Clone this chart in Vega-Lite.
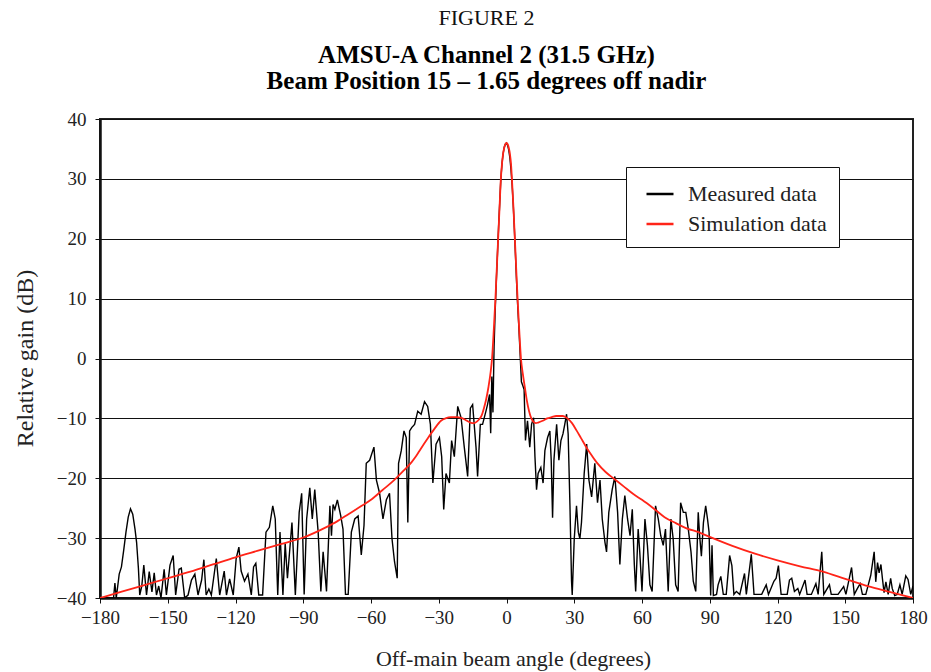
{
  "$schema": "https://vega.github.io/schema/vega-lite/v6.json",
  "width": 813,
  "height": 479,
  "autosize": {"type": "none"},
  "padding": {"left": 100, "top": 119, "right": 18, "bottom": 74},
  "background": "white",
  "config": {
    "font": "Liberation Serif",
    "view": {"stroke": "#222", "strokeWidth": 2},
    "axis": {"labelFont": "Liberation Serif", "titleFont": "Liberation Serif", "labelColor": "#222", "titleColor": "#222", "titleFontWeight": "normal"}
  },
  "title": {
    "text": "FIGURE 2",
    "subtitle": ["AMSU-A Channel 2 (31.5 GHz)", "Beam Position 15 – 1.65 degrees off nadir"],
    "font": "Liberation Serif",
    "fontSize": 22,
    "fontWeight": "normal",
    "color": "#111",
    "subtitleFont": "Liberation Serif",
    "subtitleFontSize": 25,
    "subtitleFontWeight": "bold",
    "subtitleColor": "#000",
    "subtitleLineHeight": 26,
    "subtitlePadding": 13,
    "anchor": "middle",
    "dx": -20,
    "offset": 15
  },
  "datasets": {
    "measured": [
      {"a":-180,"g":-40},{"a":-176,"g":-40},{"a":-174,"g":-40},{"a":-173.4,"g":-37.5},{"a":-172.8,"g":-40},{"a":-171.5,"g":-36},{"a":-170.5,"g":-34.8},{"a":-169.5,"g":-32},{"a":-168.5,"g":-29},{"a":-167.5,"g":-26.5},{"a":-166.5,"g":-25.1},{"a":-165.5,"g":-26},{"a":-164.5,"g":-28.5},{"a":-163.8,"g":-30.7},{"a":-163,"g":-35},{"a":-162.4,"g":-39.5},{"a":-161.5,"g":-38},{"a":-160.6,"g":-34.5},{"a":-159.4,"g":-39.5},{"a":-158.2,"g":-35.6},{"a":-157,"g":-39},{"a":-156,"g":-35.8},{"a":-155,"g":-39.5},{"a":-154,"g":-38},{"a":-153,"g":-40},{"a":-151.6,"g":-35.2},{"a":-150.6,"g":-39.5},{"a":-149,"g":-34.5},{"a":-147.6,"g":-32.9},{"a":-146.5,"g":-39.5},{"a":-145,"g":-35.2},{"a":-144,"g":-35},{"a":-142.5,"g":-40},{"a":-141,"g":-39.5},{"a":-139.5,"g":-37},{"a":-138,"g":-36},{"a":-136.6,"g":-39.5},{"a":-135,"g":-37},{"a":-134,"g":-33.6},{"a":-133,"g":-39.5},{"a":-131.8,"g":-38.5},{"a":-130.7,"g":-39.5},{"a":-128.5,"g":-33.4},{"a":-127,"g":-39.5},{"a":-125,"g":-35.5},{"a":-124,"g":-39.5},{"a":-122.6,"g":-36.8},{"a":-121,"g":-39.5},{"a":-119.7,"g":-33.4},{"a":-118.5,"g":-31.5},{"a":-117.5,"g":-35.5},{"a":-116,"g":-37.2},{"a":-114.5,"g":-36},{"a":-113,"g":-39.5},{"a":-112,"g":-34.8},{"a":-111,"g":-34.2},{"a":-109.7,"g":-39.5},{"a":-108,"g":-39.5},{"a":-106.5,"g":-29},{"a":-105,"g":-28.2},{"a":-103.5,"g":-24.6},{"a":-102.4,"g":-26.8},{"a":-101.3,"g":-39.5},{"a":-100.3,"g":-29},{"a":-99,"g":-39.5},{"a":-98,"g":-30.9},{"a":-97,"g":-36.7},{"a":-95,"g":-27.4},{"a":-93.5,"g":-39.5},{"a":-91.8,"g":-25.7},{"a":-90.7,"g":-22.5},{"a":-89.6,"g":-39.4},{"a":-88.5,"g":-26.8},{"a":-87.1,"g":-21.6},{"a":-86,"g":-26.8},{"a":-84.9,"g":-21.9},{"a":-83.4,"g":-29},{"a":-82.2,"g":-38.9},{"a":-81.2,"g":-32.3},{"a":-79.7,"g":-38.9},{"a":-78.2,"g":-24.6},{"a":-77.5,"g":-29.6},{"a":-76.8,"g":-24.4},{"a":-76,"g":-25.2},{"a":-74.9,"g":-23.6},{"a":-73.4,"g":-26.3},{"a":-72.4,"g":-28.5},{"a":-71.3,"g":-39.4},{"a":-70.1,"g":-39.4},{"a":-68.7,"g":-29},{"a":-67.2,"g":-26.8},{"a":-65.7,"g":-26.3},{"a":-64.3,"g":-32.8},{"a":-63.1,"g":-27.9},{"a":-62.1,"g":-17.5},{"a":-60.6,"g":-17},{"a":-58.7,"g":-14.8},{"a":-57.6,"g":-20.3},{"a":-56.2,"g":-22.5},{"a":-54.7,"g":-26.8},{"a":-53.2,"g":-23.6},{"a":-51.8,"g":-22.5},{"a":-50.7,"g":-30.1},{"a":-49.6,"g":-33.9},{"a":-48.4,"g":-36.7},{"a":-47.8,"g":-17.5},{"a":-46.6,"g":-15.4},{"a":-45.4,"g":-12.1},{"a":-44.4,"g":-13.2},{"a":-43.7,"g":-27.4},{"a":-42.9,"g":-12.1},{"a":-41.9,"g":-11.5},{"a":-40.7,"g":-11},{"a":-39.3,"g":-8.8},{"a":-37.8,"g":-9.3},{"a":-36.3,"g":-7.2},{"a":-34.9,"g":-8},{"a":-33.7,"g":-11},{"a":-32.6,"g":-20.8},{"a":-31.2,"g":-14.3},{"a":-29.7,"g":-13.2},{"a":-28.7,"g":-16.4},{"a":-27.8,"g":-25.2},{"a":-26.8,"g":-19.2},{"a":-25.3,"g":-20.8},{"a":-24.3,"g":-13.7},{"a":-23.1,"g":-16.4},{"a":-21.6,"g":-8},{"a":-20.1,"g":-9.9},{"a":-18.7,"g":-14.8},{"a":-17.2,"g":-19.7},{"a":-16,"g":-8.3},{"a":-15,"g":-7.7},{"a":-13.5,"g":-14.8},{"a":-12.8,"g":-19.7},{"a":-11.6,"g":-11},{"a":-10.6,"g":-11},{"a":-9.1,"g":-8.8},{"a":-8.4,"g":-7.7},{"a":-7.5,"g":-6},{"a":-7,"g":-12.5},{"a":-6.5,"g":-3},{"a":-6,"g":-9},{"a":-5.5,"g":2},{"a":-5,"g":8},{"a":-4.5,"g":13},{"a":-4,"g":17.5},{"a":-3.5,"g":22},{"a":-3,"g":26},{"a":-2.5,"g":30},{"a":-2,"g":32.5},{"a":-1.5,"g":34.2},{"a":-1,"g":35.3},{"a":-0.5,"g":35.8},{"a":0,"g":36},{"a":0.5,"g":35.6},{"a":1,"g":34.8},{"a":1.5,"g":33.5},{"a":2,"g":31.5},{"a":2.5,"g":29},{"a":3,"g":25.5},{"a":3.5,"g":21.5},{"a":4,"g":17},{"a":4.5,"g":12.5},{"a":5,"g":8.5},{"a":5.5,"g":5},{"a":6,"g":1},{"a":6.6,"g":-3.9},{"a":7.2,"g":-4.5},{"a":7.8,"g":-5.2},{"a":8.4,"g":-13.7},{"a":9.3,"g":-10.4},{"a":10.3,"g":-14.8},{"a":11.1,"g":-11},{"a":12,"g":-9.9},{"a":12.6,"g":-16.4},{"a":13.3,"g":-21.9},{"a":14,"g":-19.2},{"a":15.2,"g":-18.2},{"a":16.2,"g":-20.8},{"a":17,"g":-15.4},{"a":18.2,"g":-13.2},{"a":19.2,"g":-12.1},{"a":19.8,"g":-17},{"a":20.4,"g":-26.6},{"a":21,"g":-17},{"a":22.2,"g":-11},{"a":23.2,"g":-17},{"a":24.1,"g":-13.7},{"a":25,"g":-12.6},{"a":25.8,"g":-11},{"a":26.6,"g":-9.3},{"a":27.3,"g":-12.6},{"a":28.1,"g":-24.6},{"a":28.8,"g":-37.2},{"a":29.1,"g":-39.5},{"a":30,"g":-30.1},{"a":31,"g":-24.6},{"a":31.8,"g":-29},{"a":32.5,"g":-30.1},{"a":33.2,"g":-27.4},{"a":34.4,"g":-19.2},{"a":35.5,"g":-14.3},{"a":36.5,"g":-20.3},{"a":37.7,"g":-23.1},{"a":39.1,"g":-17.5},{"a":40.3,"g":-24.1},{"a":41.4,"g":-20.3},{"a":42.4,"g":-26.8},{"a":43.6,"g":-30.7},{"a":44.3,"g":-32.3},{"a":45.3,"g":-25.7},{"a":46.8,"g":-21.9},{"a":48,"g":-19.7},{"a":49.2,"g":-25.7},{"a":50.2,"g":-34.4},{"a":51.3,"g":-26.8},{"a":52.4,"g":-22.9},{"a":53.6,"g":-26.8},{"a":54.7,"g":-29.6},{"a":55.7,"g":-25.2},{"a":56.6,"g":-34.4},{"a":57.2,"g":-38.9},{"a":58.3,"g":-28.5},{"a":59,"g":-32.3},{"a":60,"g":-38.9},{"a":61.3,"g":-26.8},{"a":62.4,"g":-31.2},{"a":63.5,"g":-37.8},{"a":64.5,"g":-38.9},{"a":66,"g":-24.6},{"a":67.2,"g":-26.8},{"a":68.3,"g":-29.6},{"a":69.4,"g":-31.2},{"a":70.4,"g":-28.5},{"a":71.6,"g":-38.9},{"a":72.8,"g":-26.8},{"a":73.8,"g":-30.1},{"a":74.9,"g":-37.8},{"a":76,"g":-38.9},{"a":77.1,"g":-24.1},{"a":78.3,"g":-25.7},{"a":79.4,"g":-25.7},{"a":80.5,"g":-28.5},{"a":81.7,"g":-32.3},{"a":82.7,"g":-37.2},{"a":83.8,"g":-38.9},{"a":84.9,"g":-25.7},{"a":85.5,"g":-29.5},{"a":86.3,"g":-33},{"a":87.2,"g":-27.4},{"a":88.2,"g":-24.6},{"a":89,"g":-26.8},{"a":89.7,"g":-29},{"a":90.4,"g":-39.6},{"a":91,"g":-31.2},{"a":91.6,"g":-39.6},{"a":93,"g":-39.4},{"a":93.7,"g":-37.8},{"a":94.9,"g":-36.4},{"a":96,"g":-39.4},{"a":97.3,"g":-39.4},{"a":98.8,"g":-32.9},{"a":99.8,"g":-34.6},{"a":100.7,"g":-39.4},{"a":101.8,"g":-38.9},{"a":103.3,"g":-39.4},{"a":105.4,"g":-35.9},{"a":106.2,"g":-39.4},{"a":108.4,"g":-32.7},{"a":109.6,"g":-39.4},{"a":111,"g":-39.4},{"a":113,"g":-39.4},{"a":115,"g":-37.8},{"a":116,"g":-39.4},{"a":118.4,"g":-37.2},{"a":119.4,"g":-36.7},{"a":120.4,"g":-34.6},{"a":121.6,"g":-39.4},{"a":124.3,"g":-39.4},{"a":125.3,"g":-37},{"a":126.3,"g":-36.7},{"a":127.5,"g":-38.9},{"a":129,"g":-38.4},{"a":129.8,"g":-39.4},{"a":132.2,"g":-37},{"a":133.1,"g":-39.4},{"a":135,"g":-39.4},{"a":137,"g":-37.6},{"a":138,"g":-39.4},{"a":139.6,"g":-32.3},{"a":140.5,"g":-39.4},{"a":143,"g":-37.8},{"a":143.8,"g":-39.4},{"a":146.8,"g":-39.4},{"a":149.3,"g":-38.1},{"a":150.3,"g":-39.4},{"a":152.8,"g":-34.9},{"a":154,"g":-39.4},{"a":155.4,"g":-38.4},{"a":156.6,"g":-37.6},{"a":157.6,"g":-39.4},{"a":159.1,"g":-39.4},{"a":161.3,"g":-36.2},{"a":162.8,"g":-32.3},{"a":163.5,"g":-37.3},{"a":164.3,"g":-34.1},{"a":165,"g":-35.8},{"a":165.8,"g":-34.4},{"a":166.5,"g":-36.9},{"a":167.2,"g":-39.1},{"a":168,"g":-37.3},{"a":169,"g":-39.4},{"a":170.1,"g":-36.7},{"a":170.8,"g":-38.4},{"a":171.9,"g":-39.6},{"a":173,"g":-39.4},{"a":174.2,"g":-37.8},{"a":175.2,"g":-39.4},{"a":176.8,"g":-36.3},{"a":177.8,"g":-36.9},{"a":179,"g":-39.4},{"a":180,"g":-38}
    ],
    "simulation": [
      {"a":-180,"g":-40},{"a":-170,"g":-38.9},{"a":-160,"g":-37.8},{"a":-150,"g":-36.7},{"a":-140,"g":-35.6},{"a":-130,"g":-34.4},{"a":-120,"g":-33.2},{"a":-110,"g":-32.1},{"a":-100,"g":-31},{"a":-90,"g":-29.9},{"a":-80,"g":-28.2},{"a":-75,"g":-27.2},{"a":-70,"g":-26},{"a":-65,"g":-24.8},{"a":-60,"g":-23.6},{"a":-55,"g":-22},{"a":-50,"g":-20.4},{"a":-45,"g":-18.5},{"a":-42,"g":-17.3},{"a":-40,"g":-16.3},{"a":-38,"g":-15.1},{"a":-35,"g":-13.4},{"a":-32,"g":-11.8},{"a":-29,"g":-10.4},{"a":-27,"g":-10},{"a":-24.6,"g":-9.8},{"a":-22,"g":-9.8},{"a":-20,"g":-9.9},{"a":-18,"g":-10.3},{"a":-16,"g":-10.7},{"a":-14.5,"g":-10.8},{"a":-13,"g":-10.5},{"a":-12,"g":-10.1},{"a":-11,"g":-9.5},{"a":-10,"g":-8.3},{"a":-9,"g":-6.8},{"a":-8,"g":-4.8},{"a":-7,"g":-2.2},{"a":-6.4,"g":0},{"a":-5.6,"g":5},{"a":-4.9,"g":10},{"a":-4.3,"g":15},{"a":-3.7,"g":20},{"a":-3.1,"g":25},{"a":-2.5,"g":30},{"a":-2,"g":32.5},{"a":-1.5,"g":34.2},{"a":-1,"g":35.2},{"a":-0.5,"g":35.8},{"a":0,"g":36},{"a":0.5,"g":35.8},{"a":1,"g":35.2},{"a":1.5,"g":34.2},{"a":2,"g":32.5},{"a":2.4,"g":30},{"a":3.1,"g":25},{"a":3.7,"g":20},{"a":4.3,"g":15},{"a":4.9,"g":10},{"a":5.6,"g":5},{"a":6.4,"g":0},{"a":7.2,"g":-2.5},{"a":8.2,"g":-5},{"a":9,"g":-7},{"a":10,"g":-8.8},{"a":11,"g":-10},{"a":12,"g":-10.6},{"a":13,"g":-10.8},{"a":14,"g":-10.7},{"a":16,"g":-10.4},{"a":18,"g":-10},{"a":20,"g":-9.8},{"a":22,"g":-9.6},{"a":25,"g":-9.6},{"a":27,"g":-10},{"a":29,"g":-10.8},{"a":31,"g":-12},{"a":33,"g":-13.3},{"a":35,"g":-14.6},{"a":37,"g":-15.8},{"a":40,"g":-17.4},{"a":44,"g":-19},{"a":48,"g":-20.2},{"a":52,"g":-21.4},{"a":56,"g":-22.6},{"a":60,"g":-23.6},{"a":65,"g":-25},{"a":70,"g":-26.5},{"a":75,"g":-27.5},{"a":80,"g":-28.4},{"a":85,"g":-29},{"a":90,"g":-29.8},{"a":100,"g":-31.3},{"a":110,"g":-32.6},{"a":120,"g":-33.7},{"a":130,"g":-34.7},{"a":140,"g":-35.6},{"a":150,"g":-36.8},{"a":160,"g":-38},{"a":170,"g":-39},{"a":180,"g":-40}
    ]
  },
  "encoding": {
    "x": {
      "field": "a", "type": "quantitative",
      "scale": {"domain": [-180, 180], "nice": false, "zero": false},
      "axis": {
        "values": [-180, -150, -120, -90, -60, -30, 0, 30, 60, 90, 120, 150, 180],
        "labelExpr": "datum.value < 0 ? '−' + abs(datum.value) : '' + datum.value",
        "grid": false,
        "domainColor": "#111", "domainWidth": 2.5,
        "tickColor": "#111", "tickSize": 5, "tickWidth": 1,
        "labelFontSize": 19, "labelPadding": 5, "labelFlush": false,
        "title": "Off-main beam angle (degrees)",
        "titleFontSize": 22, "titleX": 413, "titleY": 60, "titleBaseline": "middle", "titleAlign": "center"
      }
    },
    "y": {
      "field": "g", "type": "quantitative",
      "scale": {"domain": [-40, 40], "nice": false, "zero": false},
      "axis": {
        "values": [-40, -30, -20, -10, 0, 10, 20, 30, 40],
        "labelExpr": "datum.value < 0 ? '−' + abs(datum.value) : '' + datum.value",
        "grid": true, "gridColor": "#111", "gridWidth": 1, "gridOpacity": 1,
        "domainColor": "#111", "domainWidth": 2.5,
        "tickColor": "#111", "tickSize": 5, "tickWidth": 1,
        "labelFontSize": 19, "labelPadding": 9,
        "title": "Relative gain (dB)",
        "titleFontSize": 24, "titleX": -75, "titleY": 239, "titleAngle": -90, "titleBaseline": "middle", "titleAlign": "center"
      }
    },
    "color": {
      "scale": {"domain": ["Measured data", "Simulation data"], "range": ["#000000", "#ff2418"]},
      "legend": {
        "title": null, "orient": "none", "legendX": 526, "legendY": 48,
        "strokeColor": "#111", "fillColor": "white",
        "padding": 12, "symbolOffset": 7, "symbolType": "stroke", "symbolSize": 729, "symbolStrokeWidth": 2.5,
        "labelFontSize": 22, "labelFont": "Liberation Serif", "labelColor": "#222", "labelOffset": 13, "rowPadding": 4
      }
    }
  },
  "layer": [
    {
      "data": {"name": "measured"},
      "mark": {"type": "line", "strokeWidth": 1.4, "clip": true, "interpolate": "linear"},
      "encoding": {"color": {"datum": "Measured data"}}
    },
    {
      "data": {"name": "simulation"},
      "mark": {"type": "line", "strokeWidth": 1.8, "clip": true, "interpolate": "monotone"},
      "encoding": {"color": {"datum": "Simulation data"}}
    }
  ]
}
